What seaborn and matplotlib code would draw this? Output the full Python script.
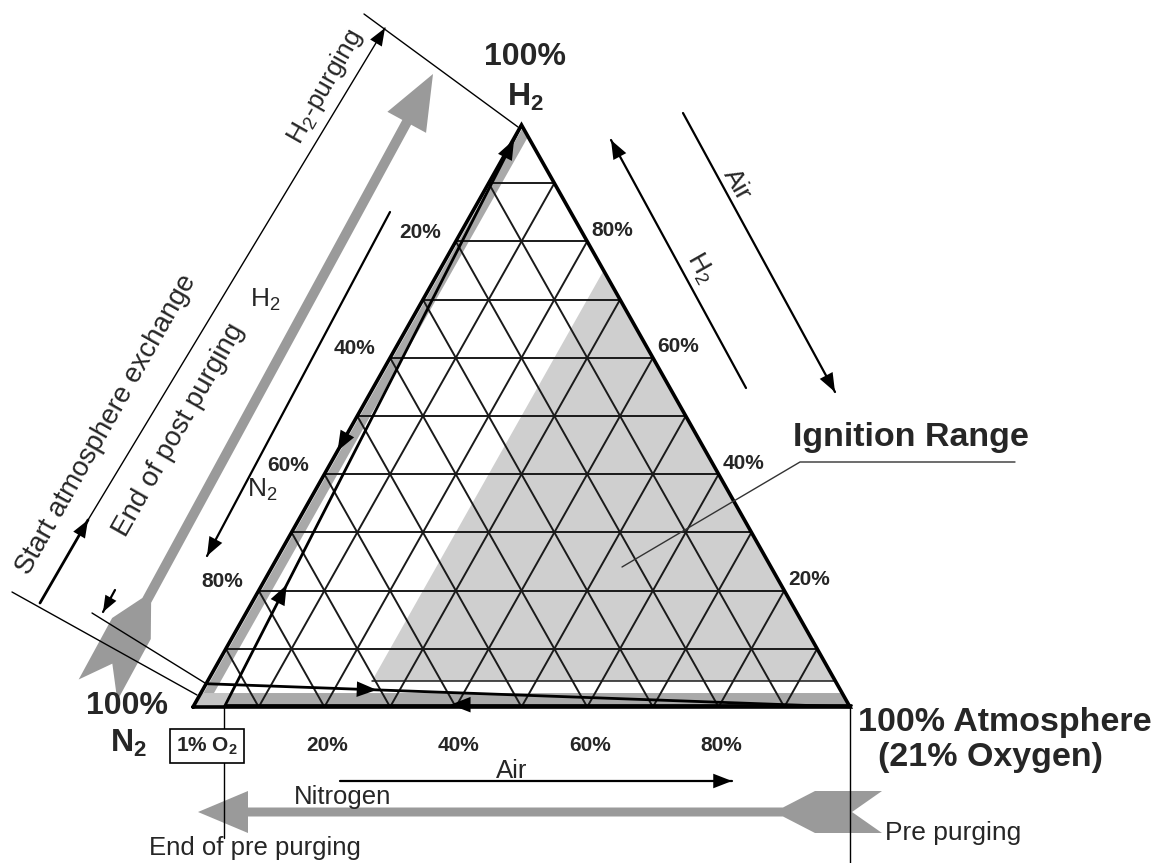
import numpy as np
import pandas as pd
import matplotlib
matplotlib.use("Agg")
import matplotlib.pyplot as plt
import seaborn as sns
from matplotlib.patches import Polygon
from matplotlib import transforms as mtransforms

# ---------------- data (ternary fractions: air, H2; N2 = 1 - air - H2) ----------------
grid_levels = [0.1, 0.2, 0.3, 0.4, 0.5, 0.6, 0.7, 0.8, 0.9]
n2_ticks = [0.2, 0.4, 0.6, 0.8]      # left edge
h2_ticks = [0.8, 0.6, 0.4, 0.2]      # right edge
air_ticks = [0.2, 0.4, 0.6, 0.8]     # base
n2_labels = ["20%", "40%", "60%", "80%"]
h2_labels = ["80%", "60%", "40%", "20%"]
air_labels = ["20%", "40%", "60%", "80%"]

ignition_air_min = 0.25      # minimum air share for ignition
ignition_h2_min = 0.045      # lower H2 limit
ignition_h2_max = 0.75       # upper H2 limit
o2_in_air = 0.21
o2_end_prepurge = 0.01       # 1 % O2 left after pre purging
h2_start_exchange = 0.04     # H2 share when the atmosphere exchange starts
post_purge_strip = [0.004, 0.020]   # air band of the post-purging path
pre_purge_strip = [0.003, 0.024]    # H2 band of the pre-purging path

# ---------------- figure geometry ----------------
W, H = 1165, 863
TRI_X0, TRI_BASE, TRI_Y0, TRI_H = 193, 657, 707, 582

sns.set_theme(style="white")
plt.rcParams["font.family"] = ["Liberation Sans", "DejaVu Sans"]
plt.rcParams["mathtext.fontset"] = "custom"
plt.rcParams["mathtext.rm"] = "Liberation Sans"
plt.rcParams["mathtext.it"] = "Liberation Sans:italic"
plt.rcParams["mathtext.bf"] = "Liberation Sans:bold"

fig = plt.figure(figsize=(W / 100, H / 100), dpi=100)
ax = fig.add_axes([0, 0, 1, 1])
ax.set_xlim(-TRI_X0 / TRI_BASE, (W - TRI_X0) / TRI_BASE)
ax.set_ylim(-(H - TRI_Y0) / TRI_H, TRI_Y0 / TRI_H)
ax.axis("off")

# pixel transform (origin top-left) for the surrounding annotation graphics
px = mtransforms.Affine2D().scale(1 / W, -1 / H).translate(0, 1) + fig.transFigure


def tern(a, h):
    """air fraction a, H2 fraction h -> cartesian data coordinates"""
    a = np.asarray(a, dtype=float)
    h = np.asarray(h, dtype=float)
    return a + h / 2, h


GRID = "#1a1a1a"
FILL = "#cfcfcf"
STRIP = "#a9a9a9"
ARROW_GRAY = "#9a9a9a"

# ---------------- ignition range ----------------
ig_a = [ignition_air_min, ignition_air_min, 1 - ignition_h2_min]
ig_h = [ignition_h2_max, ignition_h2_min, ignition_h2_min]
ix, iy = tern(ig_a, ig_h)
ax.add_patch(Polygon(np.column_stack([ix, iy]), closed=True, facecolor=FILL,
                     edgecolor="none", zorder=1))

# purging path bands
sa = [post_purge_strip[0], post_purge_strip[1], post_purge_strip[1], post_purge_strip[0]]
sh = [0, 0, 1 - post_purge_strip[1], 1 - post_purge_strip[0]]
sx, sy = tern(sa, sh)
ax.add_patch(Polygon(np.column_stack([sx, sy]), closed=True, facecolor=STRIP,
                     edgecolor="none", zorder=1))
a_end = o2_end_prepurge / o2_in_air
ba = [a_end, 1 - pre_purge_strip[0], 1 - pre_purge_strip[1], a_end]
bh = [pre_purge_strip[0], pre_purge_strip[0], pre_purge_strip[1], pre_purge_strip[1]]
bx, by = tern(ba, bh)
ax.add_patch(Polygon(np.column_stack([bx, by]), closed=True, facecolor=STRIP,
                     edgecolor="none", zorder=1))
ca = [0, a_end, a_end, 0]
ch = [0, 0, pre_purge_strip[1], pre_purge_strip[1]]
cx, cy = tern(ca, ch)
ax.add_patch(Polygon(np.column_stack([cx, cy]), closed=True, facecolor="#c4c4c4",
                     edgecolor="none", zorder=1))

# ---------------- grid lines (10 % steps of each component) ----------------
rows = []
for k, v in enumerate(grid_levels):
    # constant H2
    for a, h in [(0, v), (1 - v, v)]:
        rows.append(("h%d" % k, *tern(a, h)))
    # constant air
    for a, h in [(v, 0), (v, 1 - v)]:
        rows.append(("a%d" % k, *tern(a, h)))
    # constant N2
    for a, h in [(1 - v, 0), (0, 1 - v)]:
        rows.append(("n%d" % k, *tern(a, h)))
grid_df = pd.DataFrame(rows, columns=["line", "x", "y"])
grid_df["x"] = grid_df["x"].astype(float)
grid_df["y"] = grid_df["y"].astype(float)
sns.lineplot(data=grid_df, x="x", y="y", units="line", estimator=None, sort=False,
             color=GRID, lw=1.4, ax=ax, legend=False, zorder=2)

# lower ignition limit line
lx, ly = tern([ignition_air_min, 1 - ignition_h2_min], [ignition_h2_min, ignition_h2_min])
ax.plot(lx, ly, color=GRID, lw=1.1, zorder=2)

# triangle outline
tx, ty = tern([0, 1, 0, 0], [0, 0, 1, 0])
ax.plot(tx, ty, color="black", lw=2.6, zorder=4, solid_joinstyle="miter")


def head(p_from, p_to, coords, size=16, color="black"):
    ax.annotate("", xy=p_to, xytext=p_from, xycoords=coords, textcoords=coords,
                arrowprops=dict(arrowstyle="-|>,head_length=0.9,head_width=0.35",
                                mutation_scale=size, color=color, lw=0,
                                shrinkA=0, shrinkB=0), zorder=6)


def tpoint(a, h):
    x, y = tern(a, h)
    return float(x), float(y)


# mixing line: 1 % O2 point towards pure H2
mx, my = tern([a_end, 0], [0, 1])
ax.plot(mx, my, color="black", lw=2.0, zorder=5)
for hh in [0.21, 0.975]:
    head(tpoint(a_end * (1 - hh + 0.03), hh - 0.03), tpoint(a_end * (1 - hh), hh), "data")

# start of atmosphere exchange: H2/N2 mix towards air
ex, ey = tern([0, 1], [h2_start_exchange, 0])
ax.plot(ex, ey, color="black", lw=2.0, zorder=5)
t0, t1 = 0.22, 0.265
head(tpoint(t0, h2_start_exchange * (1 - t0)), tpoint(t1, h2_start_exchange * (1 - t1)), "data")

# pre purging along the base: air -> N2
ax.plot(*tern([1, a_end], [0.004, 0.004]), color="black", lw=2.0, zorder=5)
head(tpoint(0.44, 0.004), tpoint(0.39, 0.004), "data")

# post purging on the left edge: H2 -> N2
head(tpoint(0, 0.49), tpoint(0, 0.44), "data")

# ---------------- tick labels ----------------
tick_kw = dict(fontsize=15, fontweight="bold", ha="center", va="center", zorder=7)
for v, lab in zip(n2_ticks, n2_labels):
    ax.annotate(lab, xy=tpoint(0, 1 - v), textcoords="offset pixels",
                xytext=(-36, 9), **tick_kw)
for v, lab in zip(h2_ticks, h2_labels):
    ax.annotate(lab, xy=tpoint(1 - v, v), textcoords="offset pixels",
                xytext=(25, 11), **tick_kw)
for v, lab in zip(air_ticks, air_labels):
    ax.annotate(lab, xy=tpoint(v, 0), textcoords="offset pixels",
                xytext=(3, -38), **tick_kw)

# ---------------- corner labels ----------------
big = dict(fontsize=23, fontweight="bold", ha="center", va="center", zorder=7)
ax.text(525, 57, "100%", transform=px, **big)
ax.text(525, 97, r"H$_\mathbf{2}$", transform=px, **big)
ax.text(127, 706, "100%", transform=px, **big)
ax.text(128, 743, r"N$_\mathbf{2}$", transform=px, **big)
big["fontsize"] = 24.5
ax.text(1005, 722, "100% Atmosphere", transform=px, **big)
ax.text(990, 757, "(21% Oxygen)", transform=px, **big)
ax.text(911, 437, "Ignition Range", transform=px, **big)

# ignition leader
ax.plot([1015, 800, 622], [462, 462, 567], color="#333333", lw=1.0, transform=px, zorder=7)

# ---------------- gray process arrows ----------------


def swallow_arrow(tail, tip, shaft_hw, head_hw, head_len, flare_len, tail_len, notch):
    tail = np.array(tail, float)
    tip = np.array(tip, float)
    d = tip - tail
    L = np.hypot(*d)
    u = d / L
    n = np.array([-u[1], u[0]])
    pts_local = [
        (L, 0), (L - head_len, head_hw), (L - head_len, shaft_hw),
        (tail_len + flare_len, shaft_hw), (tail_len, head_hw), (0, head_hw),
        (notch, 0), (0, -head_hw), (tail_len, -head_hw),
        (tail_len + flare_len, -shaft_hw), (L - head_len, -shaft_hw),
        (L - head_len, -head_hw),
    ]
    return np.array([tail + s * u + t * n for s, t in pts_local])


bottom_arrow = swallow_arrow((882, 812), (198, 812), 4.5, 21, 50, 32, 67, 30)
ax.add_patch(Polygon(bottom_arrow, closed=True, transform=px, facecolor=ARROW_GRAY,
                     edgecolor="none", zorder=3))
diag_arrow = swallow_arrow((98, 690), (433, 74), 5, 22, 55, 32, 70, 30)
ax.add_patch(Polygon(diag_arrow, closed=True, transform=px, facecolor=ARROW_GRAY,
                     edgecolor="none", zorder=3))

# ---------------- dimension lines on the left ----------------
thin = dict(color="black", lw=1.0, transform=px, zorder=6)
ax.plot([364, 518], [14, 127], **thin)
ax.plot([12, 197], [592, 695], **thin)
ax.plot([92, 205], [613, 683], **thin)
ax.plot([88, 385], [520, 28], **thin)
ax.plot([40, 88], [603, 520], color="black", lw=2.0, transform=px, zorder=6)
head((78, 537), (88, 520), px, size=14)
head((370, 53), (385, 28), px, size=14)
ax.plot([115, 103], [590, 612], color="black", lw=1.6, transform=px, zorder=6)
head((108, 603), (103, 612), px, size=13)

# inner H2 / N2 axis arrow
ax.plot([390, 207], [212, 556], color="black", lw=1.6, transform=px, zorder=6)
head((215, 541), (207, 556), px, size=15)

# right-side arrows
ax.plot([746, 611], [388, 140], color="black", lw=1.6, transform=px, zorder=6)
head((619, 155), (611, 140), px, size=15)
ax.plot([683, 835], [113, 392], color="black", lw=1.6, transform=px, zorder=6)
head((827, 377), (835, 392), px, size=15)

# bottom air arrow
ax.plot([340, 732], [781, 781], color="black", lw=1.6, transform=px, zorder=6)
head((716, 781), (732, 781), px, size=15)

# vertical markers below the base
ax.plot([224, 224], [707, 838], **thin)
ax.plot([850, 850], [707, 863], **thin)

# ---------------- process labels ----------------
reg = dict(fontsize=19, ha="center", va="center", zorder=7)
ax.text(325, 87, r"H$_\mathrm{2}$-purging", rotation=60.5, transform=px, **reg)
ax.text(106, 425, "Start atmosphere exchange", rotation=60.5, transform=px,
        fontsize=20, ha="center", va="center", zorder=7)
ax.text(179, 430, "End of post purging", rotation=60.5, transform=px, fontsize=20,
        ha="center", va="center", zorder=7)
ax.text(265, 300, r"H$_\mathrm{2}$", transform=px, **reg)
ax.text(262, 490, r"N$_\mathrm{2}$", transform=px, **reg)
ax.text(737, 185, "Air", rotation=-60.5, transform=px, **reg)
ax.text(700, 268, r"H$_\mathrm{2}$", rotation=-60.5, transform=px, **reg)
reg["fontsize"] = 18.5
ax.text(512, 771, "Air", transform=px, **reg)
ax.text(343, 797, "Nitrogen", transform=px, **reg)
ax.text(255, 848, "End of pre purging", transform=px, **reg)
ax.text(885, 833, "Pre purging", transform=px, fontsize=19, ha="left", va="center", zorder=7)
ax.text(207, 746, r"1% O$_\mathbf{2}$", transform=px, fontsize=15, fontweight="bold",
        ha="center", va="center", zorder=8,
        bbox=dict(boxstyle="square,pad=0.3", facecolor="white", edgecolor="black", lw=1.2))

fig.savefig("out.png", dpi=100, facecolor="white")
